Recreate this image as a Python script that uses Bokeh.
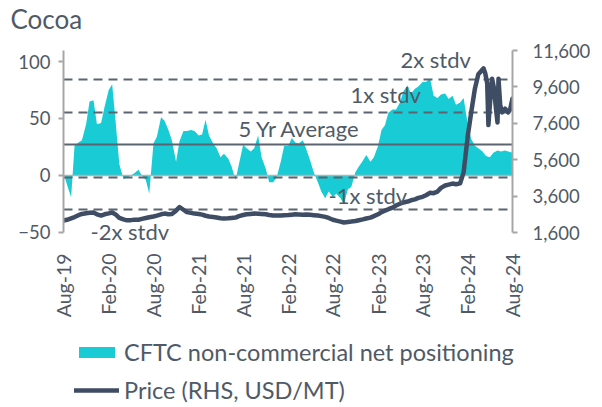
import math
import pandas as pd
from bokeh.plotting import figure
from bokeh.layouts import column
from bokeh.models import (Range1d, LinearAxis, FixedTicker, NumeralTickFormatter,
                          Label, Legend, LegendItem)
from bokeh.embed import file_html
from bokeh.resources import INLINE

# ---------------- data ----------------
title_text = "Cocoa"

# CFTC non-commercial net positioning (semi-monthly, Aug-19 .. Aug-24)
cftc_dates = pd.date_range("2019-08-01", "2024-08-01", freq="SMS")
cftc_values = [
    2, -8, -19, 26, 29, 31, 45, 65, 66, 45,
    46, 60, 75, 80, 45, 10, -3, -2, 0, 2,
    5, 0, -4, -16, 28, 34, 51, 48, 40, 31,
    12, 30, 39, 39, 40, 39, 35, 36, 49, 35,
    28, 24, 16, 19, 15, 8, -4, 10, 27, 24,
    21, 24, 35, 16, 6, -6, -6, -2, 12, 26,
    26, 33, 29, 28, 31, 23, 13, 3, -6, -14,
    -20, -14, -19, -16, -20, -25, -12, -10, 3, 8,
    13, 18, 12, 16, 26, 40, 44, 55, 58, 58,
    64, 74, 79, 72, 76, 78, 82, 82, 85, 70,
    68, 71, 72, 67, 70, 62, 64, 68, 45, 32,
    26, 24, 21, 17, 16, 20, 22, 21, 22, 21,
    20,
]

# Price (RHS, USD/MT)
price_dates_early = pd.date_range("2019-08-01", "2024-03-01", freq="SMS")
price_values_early = [
    2260, 2300, 2380, 2450, 2550, 2620, 2660, 2690, 2700, 2600,
    2530, 2600, 2650, 2700, 2580, 2400, 2320, 2270, 2280, 2300,
    2300, 2350, 2400, 2440, 2480, 2530, 2600, 2640, 2600, 2620,
    2800, 3000, 2850, 2720, 2680, 2640, 2620, 2580, 2520, 2480,
    2450, 2420, 2380, 2370, 2380, 2400, 2420, 2500, 2560, 2600,
    2620, 2640, 2630, 2620, 2600, 2560, 2540, 2530, 2540, 2550,
    2560, 2580, 2600, 2590, 2580, 2590, 2570, 2550, 2530, 2500,
    2460, 2400, 2300, 2250, 2200, 2150, 2180, 2200, 2230, 2270,
    2320, 2370, 2420, 2500, 2600, 2720, 2800, 2880, 2970, 3080,
    3180, 3250, 3300, 3370, 3420, 3500, 3560, 3650, 3780, 3760,
    3850, 4050, 4180, 4230, 4290, 4250, 4300, 4900, 6900, 8200,
    9500,
]
price_dates_late = ["2024-03-15", "2024-04-01", "2024-04-05", "2024-04-12", "2024-04-20",
                    "2024-04-25", "2024-05-02", "2024-05-10", "2024-05-18", "2024-05-25",
                    "2024-06-01", "2024-06-05", "2024-06-12", "2024-06-20", "2024-07-02",
                    "2024-07-14", "2024-07-22", "2024-08-01"]
price_values_late = [10300, 10550, 10620, 10350, 9800,
                     7500, 8800, 10050, 9500, 8500,
                     7650, 10050, 8600, 8200, 8400,
                     8200, 8350, 8960]

price_dates = list(price_dates_early) + list(pd.to_datetime(price_dates_late))
price_values = price_values_early + price_values_late

five_yr_average = 27
stdv = 28.5
band_labels = ["2x stdv", "1x stdv", "5 Yr Average", "-1x stdv", "-2x stdv"]
band_multiples = [2, 1, 0, -1, -2]

left_ticks = [-50, 0, 50, 100]
right_ticks = [1600, 3600, 5600, 7600, 9600, 11600]
x_tick_dates = ["2019-08-01", "2020-02-01", "2020-08-01", "2021-02-01", "2021-08-01", "2022-02-01",
                "2022-08-01", "2023-02-01", "2023-08-01", "2024-02-01", "2024-08-01"]
x_tick_labels = ["Aug-19", "Feb-20", "Aug-20", "Feb-21", "Aug-21", "Feb-22",
                 "Aug-22", "Feb-23", "Aug-23", "Feb-24", "Aug-24"]
legend_labels = ["CFTC non-commercial net positioning", "Price (RHS, USD/MT)"]

# ---------------- style ----------------
FONT = "Lato"
TXT = "#505a66"
TEAL = "#18cbd4"
DARK = "#3f4d64"
REF = "#5b6470"
AXIS = "#a6a6a6"


def strip(height):
    f = figure(width=602, height=height, output_backend="svg", toolbar_location=None,
               x_axis_type=None, y_axis_type=None,
               min_border_left=0, min_border_right=0, min_border_top=0, min_border_bottom=0)
    f.frame_align = False
    f.outline_line_color = None
    f.grid.visible = False
    return f


# title strip
p0 = strip(36)
p0.x_range = Range1d(0, 1)
p0.y_range = Range1d(0, 1)
p0.add_layout(Label(x=10, y=18, x_units="screen", y_units="screen", text=title_text,
                    text_font=FONT, text_font_size="26px", text_color=TXT,
                    text_baseline="alphabetic"))

# main chart
p = figure(width=602, height=293, x_axis_type="datetime",
           output_backend="svg", toolbar_location=None,
           x_range=Range1d(pd.Timestamp("2019-08-01"), pd.Timestamp("2024-08-01")),
           y_range=Range1d(-60.53, 109.65),
           min_border_left=63, min_border_right=90, min_border_top=14, min_border_bottom=85)
p.frame_align = False
p.extra_y_ranges = {"price": Range1d(941, 11600)}
p.outline_line_color = None
p.grid.visible = False
p.background_fill_color = "white"
p.border_fill_color = "white"

area = p.varea(x=cftc_dates, y1=0, y2=cftc_values, fill_color=TEAL)

p.hspan(y=[0], line_color="#b4b4b4", line_width=1.5)
dashed_levels = [five_yr_average + m * stdv for m in band_multiples if m != 0]
p.hspan(y=dashed_levels, line_color=REF, line_width=2, line_dash="9 6")
p.hspan(y=[five_yr_average], line_color=REF, line_width=2)

price = p.line(x=price_dates, y=price_values, y_range_name="price",
               line_color=DARK, line_width=4.5, line_join="round", line_cap="round")

# axes
xa = p.xaxis[0]
xa.ticker = FixedTicker(ticks=[pd.Timestamp(d).value / 1e6 for d in x_tick_dates])
xa.major_label_overrides = {pd.Timestamp(d).value / 1e6: l for d, l in zip(x_tick_dates, x_tick_labels)}
xa.major_label_orientation = math.pi / 2
xa.axis_line_color = None
xa.major_tick_line_color = None
xa.minor_tick_line_color = None
xa.major_label_standoff = 3
xa.major_label_text_font = FONT
xa.major_label_text_font_size = "19.5px"
xa.major_label_text_color = TXT

ya = p.yaxis[0]
ya.ticker = FixedTicker(ticks=left_ticks)
ya.bounds = (-50, 109.65)
ya.axis_line_color = AXIS
ya.axis_line_width = 2
ya.major_tick_line_color = AXIS
ya.major_tick_line_width = 2
ya.major_tick_out = 5
ya.major_tick_in = 0
ya.minor_tick_line_color = None
ya.major_label_standoff = 8
ya.major_label_text_font = FONT
ya.major_label_text_font_size = "18.5px"
ya.major_label_text_color = TXT

ra = LinearAxis(y_range_name="price", ticker=FixedTicker(ticks=right_ticks),
                formatter=NumeralTickFormatter(format="0,0"), bounds=(1600, 11600))
ra.axis_line_color = AXIS
ra.axis_line_width = 2
ra.major_tick_line_color = AXIS
ra.major_tick_line_width = 2
ra.major_tick_out = 5
ra.major_tick_in = 0
ra.minor_tick_line_color = None
ra.major_label_standoff = 15
ra.major_label_text_font = FONT
ra.major_label_text_font_size = "18.5px"
ra.major_label_text_color = TXT
p.add_layout(ra, "right")

# band labels (screen offsets from the frame's lower-left corner)
band_label_pos = [(337, 185), (287, 150), (175, 116), (265, 49), (27, 13)]
for txt, (lx, ly) in zip(band_labels, band_label_pos):
    p.add_layout(Label(x=lx, y=ly, x_units="screen", y_units="screen", text=txt,
                       text_font=FONT, text_font_size="22px", text_color=TXT,
                       text_baseline="alphabetic"))

# legend strip: same data/styles, viewed through a range where nothing is on screen
p2 = strip(78)
p2.x_range = p.x_range
p2.y_range = Range1d(1e6, 1e6 + 1)
p2.extra_y_ranges = {"price": Range1d(1e9, 1e9 + 1)}
leg_area = p2.varea(x=cftc_dates, y1=0, y2=cftc_values, fill_color=TEAL)
leg_line = p2.line(x=price_dates, y=price_values, y_range_name="price",
                   line_color=DARK, line_width=4.5, line_cap="round")
legend = Legend(items=[LegendItem(label=legend_labels[0], renderers=[leg_area]),
                       LegendItem(label=legend_labels[1], renderers=[leg_line])],
                location=(74, 3), orientation="vertical",
                glyph_width=45, glyph_height=14, label_height=14,
                label_standoff=5, spacing=10, padding=0, margin=0,
                border_line_color=None, background_fill_alpha=0,
                label_text_font=FONT, label_text_font_size="23.5px",
                label_text_color=TXT, label_text_align="left",
                label_text_baseline="middle")
p2.add_layout(legend)

open("out.html", "w").write(file_html(column(p0, p, p2), INLINE))
